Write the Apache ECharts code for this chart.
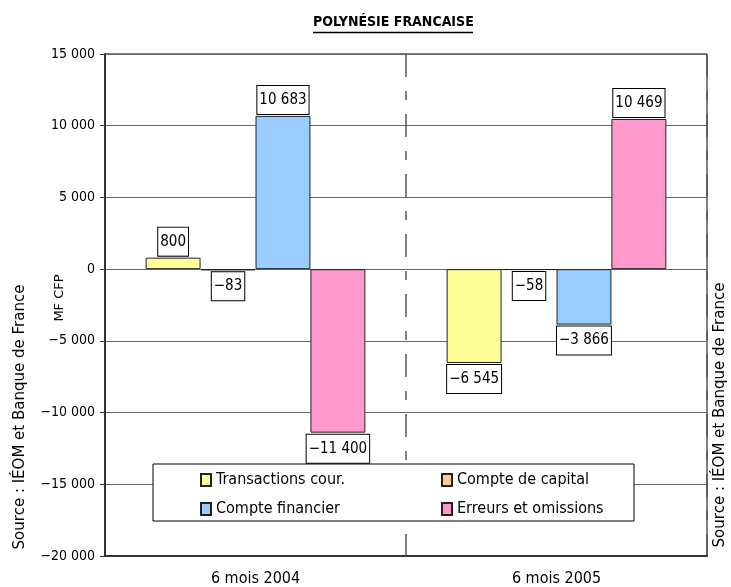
<!DOCTYPE html>
<html>
<head>
<meta charset="utf-8">
<script src="https://cdn.jsdelivr.net/npm/echarts@6/dist/echarts.min.js"></script>
<style>html,body{margin:0;padding:0;background:#fff}#c{width:731px;height:587px}</style>
</head>
<body>
<div id="c"></div>
<script>
const categories = ['6 mois 2004', '6 mois 2005'];
const seriesNames = ['Transactions cour.', 'Compte de capital', 'Compte financier', 'Erreurs et omissions'];
const transactions = [800, -6545];
const capital = [-83, -58];
const financier = [10683, -3866];
const erreurs = [-11400, 10469];
const seriesColors = ['#FFFF99', '#FFCC99', '#99CCFF', '#FF99CC'];
const yTicks = { min: -20000, max: 15000, interval: 5000 };

const NARROW = "'DejaVu Sans Condensed', 'Liberation Sans Narrow', sans-serif";
const REG = "'DejaVu Sans', sans-serif";

function fmt(v) {
  const s = Math.abs(v).toString().replace(/\B(?=(\d{3})+(?!\d))/g, ' ');
  return (v < 0 ? '\u2212' : '') + s;
}

const values = [transactions, capital, financier, erreurs];

const series = values.map((arr, i) => ({
  name: seriesNames[i],
  type: 'bar',
  barGap: '0%',
  barCategoryGap: '27%',
  itemStyle: { color: seriesColors[i], borderColor: '#222', borderWidth: 1 },
  data: arr.map(v => ({
    value: v,
    label: { position: v >= 0 ? 'top' : 'bottom' }
  })),
  label: {
    show: true,
    distance: 2,
    formatter: p => fmt(p.value),
    fontFamily: NARROW,
    fontSize: 15,
    lineHeight: 18,
    color: '#000',
    backgroundColor: '#fff',
    borderColor: '#000',
    borderWidth: 1,
    padding: [5, 2, 5, 2]
  }
}));

const chart = echarts.init(document.getElementById('c'));
chart.setOption({
  animation: false,
  backgroundColor: '#fff',
  title: {
    text: 'POLYNÉSIE FRANCAISE',
    left: 313,
    top: 15,
    padding: 0,
    textStyle: { fontFamily: NARROW, fontSize: 14, fontWeight: 'bold', color: '#000' }
  },
  grid: { left: 105, right: 24, top: 54, bottom: 30, show: true, borderColor: '#000', borderWidth: 1 },
  legend: [
    {
      data: [seriesNames[0], seriesNames[2]],
      orient: 'vertical',
      left: 153,
      top: 464,
      padding: [6, 287, 2, 47],
      itemGap: 9,
      itemWidth: 10,
      itemHeight: 12,
      icon: 'rect',
      backgroundColor: '#fff',
      borderColor: '#000',
      borderWidth: 1,
      z: 5,
      selectedMode: false,
      textStyle: { fontFamily: NARROW, fontSize: 16, lineHeight: 20, color: '#000', width: 131, overflow: 'none' }
    },
    {
      data: [seriesNames[1], seriesNames[3]],
      orient: 'vertical',
      left: 441,
      top: 470,
      padding: 0,
      itemGap: 9,
      itemWidth: 10,
      itemHeight: 12,
      icon: 'rect',
      z: 6,
      selectedMode: false,
      textStyle: { fontFamily: NARROW, fontSize: 16, lineHeight: 20, color: '#000' }
    }
  ],
  xAxis: {
    type: 'category',
    data: categories,
    axisLine: { onZero: false, lineStyle: { color: '#333', width: 2 } },
    axisTick: { show: false },
    axisLabel: { fontFamily: NARROW, fontSize: 16, color: '#000', margin: 15 },
    splitLine: { show: true, lineStyle: { type: [23, 14, 9, 14], color: '#555', width: 1.5 } }
  },
  yAxis: {
    type: 'value',
    min: yTicks.min,
    max: yTicks.max,
    interval: yTicks.interval,
    name: 'MF CFP',
    nameLocation: 'middle',
    nameRotate: 90,
    nameGap: 39,
    nameMoveOverlap: false,
    nameTextStyle: { fontFamily: REG, fontSize: 13, color: '#000', padding: [0, 0, 0, 14] },
    axisLine: { show: true, lineStyle: { color: '#333', width: 2 } },
    axisTick: { show: true, length: 5, lineStyle: { color: '#333', width: 1 } },
    axisLabel: { fontFamily: NARROW, fontSize: 14, color: '#000', margin: 10, formatter: v => fmt(v) },
    splitLine: { show: true, lineStyle: { color: '#666', width: 1 } }
  },
  graphic: [
    { type: 'line', shape: { x1: 313, y1: 32.5, x2: 473, y2: 32.5 }, style: { stroke: '#000', lineWidth: 1.5 } },
    { type: 'text', x: 20, y: 417, rotation: Math.PI / 2,
      style: { text: 'Source : IÉOM et Banque de France', font: "15px 'DejaVu Sans', sans-serif", fill: '#000', align: 'center', verticalAlign: 'middle' } },
    { type: 'text', x: 720, y: 415, rotation: Math.PI / 2,
      style: { text: 'Source : IÉOM et Banque de France', font: "15px 'DejaVu Sans', sans-serif", fill: '#000', align: 'center', verticalAlign: 'middle' } }
  ],
  series: series
});
</script>
</body>
</html>
